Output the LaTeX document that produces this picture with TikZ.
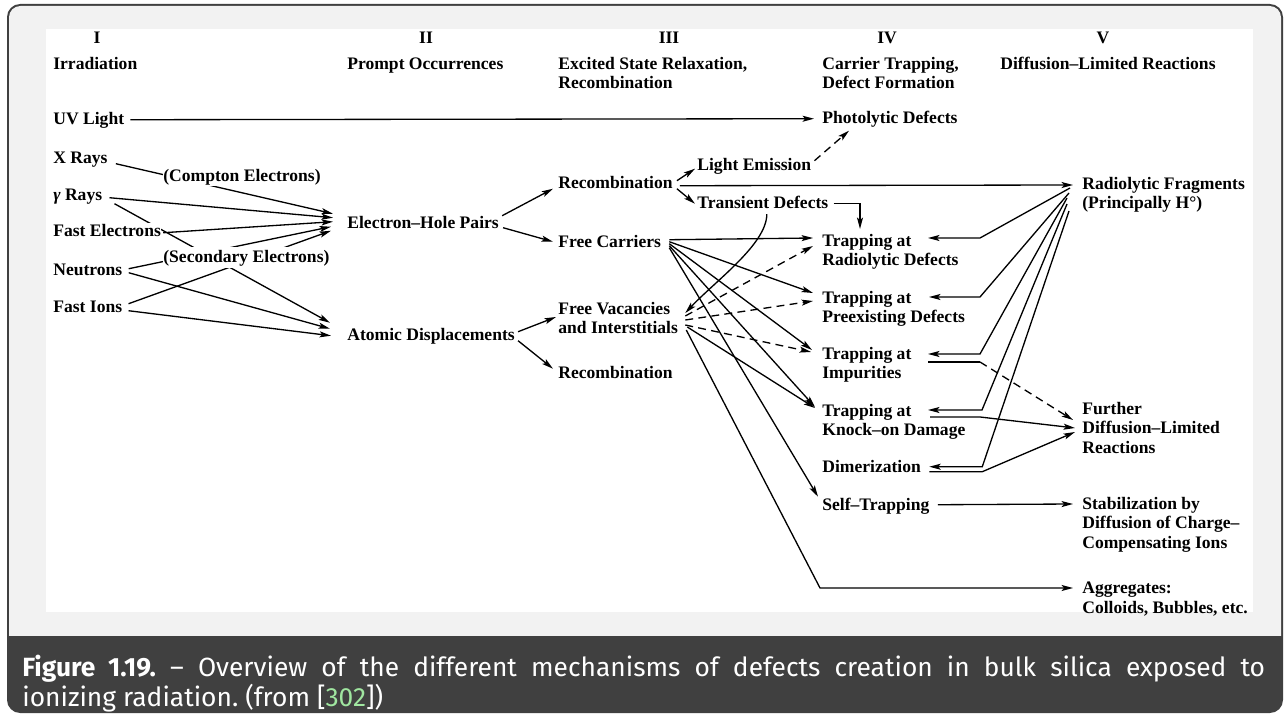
\documentclass[tikz,border=0pt]{standalone}
\usepackage{fontspec}
\usetikzlibrary{arrows.meta,calc,backgrounds}
\newfontfamily\diagfont{Liberation Serif}
\newfontfamily\capfont{Fira Sans}
\definecolor{capgray}{RGB}{64,64,64}
\definecolor{boxgray}{RGB}{242,242,242}
\definecolor{linkgreen}{RGB}{160,230,160}
\tikzset{
  lbl/.style={font=\diagfont\bfseries\fontsize{10}{11}\selectfont, inner sep=0pt, anchor=base west, text height=7pt, text depth=1pt},
  lbls/.style={font=\diagfont\bfseries\fontsize{10}{11}\selectfont, inner sep=0pt, anchor=north west, align=left},
  hdr/.style={lbl, anchor=base},
  hide/.style={fill=white, inner ysep=2pt},
  ln/.style={line width=0.75pt},
  arr/.style={ln, -{Stealth[length=6.5pt,width=3.4pt,inset=1.4pt]}},
  dsh/.style={dash pattern=on 4.5pt off 3pt}
}
\begin{document}
\begin{tikzpicture}[x=0.02cm,y=-0.02cm]
    \useasboundingbox (0,0) rectangle (1287,715);
    % frame
    \begin{scope}[on background layer]
        \fill[capgray, rounded corners=7.5pt] (7,4) rectangle (1283,713);
        \begin{scope}
            \clip (0,0) rectangle (1287,635);
            \fill[boxgray, rounded corners=6.5pt] (9,6) rectangle (1281,700);
        \end{scope}
        \fill[white] (46,29) rectangle (1253,612);
    \end{scope}
    % headers
    \node[hdr] (h1) at (97,44) {I};
    \node[hdr] (h2) at (426,44) {II};
    \node[hdr] (h3) at (669,44) {III};
    \node[hdr] (h4) at (887,44) {IV};
    \node[hdr] (h5) at (1103,44) {V};
    \node[lbl] (s1) at (53,70) {Irradiation};
    \node[lbl] (s2) at (347,70) {Prompt Occurrences};
    \node[lbls] (s3) at (558,57) {Excited State Relaxation,\\Recombination};
    \node[lbls] (s4) at (822,57) {Carrier Trapping,\\Defect Formation};
    \node[lbl] (s5) at (1000,70) {Diffusion\textendash Limited Reactions};
    % column I
    \node[lbl] (uv) at (53,125) {UV Light};
    \node[lbl] (xr) at (53,164) {X Rays};
    \node[lbl, hide, inner ysep=1pt] (ce) at (163,182) {(Compton Electrons)};
    \node[lbl] (gr) at (53,201) {{\itshape γ} Rays};
    \node[lbl, hide, inner ysep=1pt] (fe) at (53,237) {Fast Electrons};
    \node[lbl, hide] (se) at (163,263) {(Secondary Electrons)};
    \node[lbl] (ne) at (53,276) {Neutrons};
    \node[lbl] (fi) at (53,313) {Fast Ions};
    % column II
    \node[lbl] (eh) at (347,229) {Electron\textendash Hole Pairs};
    \node[lbl] (ad) at (347,341) {Atomic Displacements};
    % column III
    \node[lbl] (rc1) at (558,189) {Recombination};
    \node[lbl] (le) at (697,171) {Light Emission};
    \node[lbl] (td) at (697,209) {Transient Defects};
    \node[lbl] (fc) at (558,248) {Free Carriers};
    \node[lbls] (fv) at (558,302) {Free Vacancies\\and Interstitials};
    \node[lbl] (rc2) at (558,379) {Recombination};
    % column IV
    \node[lbl] (pd) at (822,124) {Photolytic Defects};
    \node[lbls] (tr) at (822,234) {Trapping at\\Radiolytic Defects};
    \node[lbls] (tp) at (822,291) {Trapping at\\Preexisting Defects};
    \node[lbls] (ti) at (822,347) {Trapping at\\Impurities};
    \node[lbls] (tk) at (822,404) {Trapping at\\Knock\textendash on Damage};
    \node[lbl] (dm) at (822,473) {Dimerization};
    \node[lbl] (st) at (822,511) {Self\textendash Trapping};
    % column V
    \node[lbls] (rf) at (1082,177) {Radiolytic Fragments\\(Principally H°)};
    \node[lbls] (fd) at (1082,402) {Further\\Diffusion\textendash Limited\\Reactions};
    \node[lbls] (sb) at (1082,497) {Stabilization by\\Diffusion of Charge\textendash\\Compensating Ions};
    \node[lbls] (ag) at (1082,582) {Aggregates:\\Colloids, Bubbles, etc.};
    \coordinate (agbend) at (820,588);
    % caption
    \node[anchor=north west, text width=24.86cm, align=justify, inner sep=0pt, text=white,
          font=\capfont\fontsize{15}{15.5}\selectfont\frenchspacing] (cap) at (22,655)
        {\textbf{Figure 1.19.} \textendash{} Overview of the different mechanisms of defects creation in bulk silica exposed to\linebreak ionizing radiation. (from [\textcolor{linkgreen}{302}])};
    % arrows
    \begin{scope}[on background layer]
        \draw[arr] ($(uv.east)+(6,0)$) -- ($(pd.west)+(-8,0)$);
        % I to II
        \draw[arr] ($(xr.east)+(8,5)$) -- ($(eh.west)+(-14,-10)$);
        \draw[arr] ($(gr.east)+(7,2)$) -- ($(eh.west)+(-14,-6)$);
        \draw[arr] ($(gr.east)+(12,8)$) -- ($(ad.west)+(-17,-13)$);
        \draw[arr] ($(fe.east)+(2,1)$) -- ($(eh.west)+(-14,-2)$);
        \draw[arr] ($(ne.east)+(6,-2)$) -- ($(eh.west)+(-16,3)$);
        \draw[arr] ($(ne.east)+(6,2)$) -- ($(ad.west)+(-17,-7)$);
        \draw[arr] ($(fi.east)+(6,-4)$) -- ($(eh.west)+(-16,7)$);
        \draw[arr] ($(fi.east)+(6,3)$) -- ($(ad.west)+(-16,0)$);
        % II to III
        \draw[arr] ($(eh.east)+(3,-8)$) -- ($(rc1.west)+(-5,5)$);
        \draw[arr] ($(eh.east)+(4,4)$) -- ($(fc.west)+(-5,-1)$);
        \draw[arr] ($(ad.east)+(3,-4)$) -- ($(fv.north west)+(-2,15)$);
        \draw[arr] ($(ad.east)+(3,5)$) -- ($(rc2.west)+(-5,-5)$);
        % III
        \draw[arr] ($(rc1.east)+(4,-3)$) -- ($(le.west)+(-2,3)$);
        \draw[arr] ($(rc1.east)+(4,5)$) -- ($(td.west)+(-2,0)$);
        \draw[arr] ($(rc1.east)+(7,2)$) -- ($(rf.north west)+(-9,8)$);
        \draw[arr, dsh] ($(le.east)+(3,-5)$) -- ($(pd.west)+(27,12)$);
        \draw[arr] ($(td.east)+(5,0)$) -| ($(tr.north west)+(38,-5)$);
        \draw[arr] ($(td.south)+(4,3)$) .. controls +(0,30) and +(30,-32) .. ($(fv.north east)+(7,11)$);
        % III to IV
        \draw[arr] ($(fc.east)+(8,-3)$) -- ($(tr.north west)+(-9,4)$);
        \draw[arr] ($(fc.east)+(8,-1)$) -- ($(tp.north west)+(-9,2)$);
        \draw[arr] ($(fc.east)+(8,1)$) -- ($(ti.north west)+(-10,3)$);
        \draw[arr] ($(fc.east)+(8,3)$) -- ($(tk.north west)+(-7,3)$);
        \draw[arr] ($(fc.east)+(8,5)$) -- ($(st.west)+(-4,-9)$);
        \draw[arr, dsh] ($(fv.north east)+(7,14)$) -- ($(tr.north west)+(-9,12)$);
        \draw[arr, dsh] ($(fv.north east)+(7,18)$) -- ($(tp.north west)+(-9,10)$);
        \draw[arr, dsh] ($(fv.north east)+(7,23)$) -- ($(ti.north west)+(-11,5)$);
        \draw[arr] ($(fv.north east)+(9,25)$) -- ($(tk.north west)+(-7,4)$);
        \draw[arr] ($(fv.north east)+(8,28)$) -- (agbend) -- ($(ag.north west)+(-9,6)$);
        % V to IV
        \draw[arr] ($(rf.north west)+(-12,11)$) -- ($(tr.north west)+(158,4)$) -- ($(tr.north west)+(106,4)$);
        \draw[arr] ($(rf.north west)+(-13,16)$) -- ($(tp.north west)+(158,6)$) -- ($(tp.north west)+(107,6)$);
        \draw[arr] ($(rf.north west)+(-15,21)$) -- ($(ti.north west)+(158,7)$) -- ($(ti.north west)+(106,7)$);
        \draw[arr] ($(rf.north west)+(-15,27)$) -- ($(tk.north west)+(160,6)$) -- ($(tk.north west)+(106,6)$);
        \draw[arr] ($(rf.north west)+(-13,34)$) -- ($(dm.east)+(61,-1)$) -- ($(dm.east)+(8,-1)$);
        % IV to V
        \draw[ln] ($(ti.north west)+(106,15)$) -- ($(ti.north west)+(158,15)$);
        \draw[arr, dsh] ($(ti.north west)+(158,15)$) -- ($(fd.north west)+(-9,18)$);
        \draw[arr] ($(tk.north west)+(108,13)$) -- ($(tk.north west)+(158,13)$) -- ($(fd.north west)+(-7,26)$);
        \draw[arr] ($(dm.east)+(8,4)$) -- ($(dm.east)+(61,4)$) -- ($(fd.north west)+(-7,30)$);
        \draw[arr] ($(st.east)+(8,-1)$) -- ($(sb.north west)+(-9,7)$);
    \end{scope}
\end{tikzpicture}
\end{document}
